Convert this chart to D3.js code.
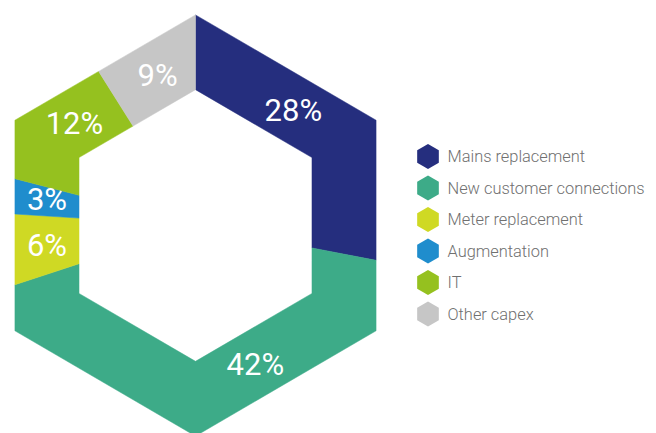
<!DOCTYPE html>
<html>
<head>
<meta charset="utf-8">
<script src="https://cdn.jsdelivr.net/npm/d3@7"></script>
<style>
  body { margin: 0; background: #fff; }
  .pct { fill: #fff; font-family: Roboto, sans-serif; font-weight: 400; font-size: 31px; }
  .legendText { fill: #707070; font-family: Roboto, sans-serif; font-weight: 300; font-size: 16.4px; }
</style>
</head>
<body>
<div id="chart"></div>
<script>
const svgWidth = 656;
const svgHeight = 433;

// data
const categories = ["Mains replacement", "New customer connections", "Meter replacement", "Augmentation", "IT", "Other capex"];
const shares = [28, 42, 6, 3, 12, 9];
const colors = ["#252e7e", "#3dab88", "#cfd924", "#1f8dcd", "#95c11f", "#c6c6c6"];

// small label angle nudges (degrees) so text sits inside the band like the original
const labelNudge = [-10, -20, 0, 1, 4, 2];

const cx = 195.5, cy = 225.5;
const outerR = 208.5;
const innerR = 134.5;
const yStretch = 1.01;

const svg = d3.select("#chart")
  .append("svg")
  .attr("width", svgWidth)
  .attr("height", svgHeight);

const chartGroup = svg.append("g")
  .attr("transform", `translate(${cx}, ${cy})`);

// point on a pointy-top hexagon of radius R at angle a (radians, clockwise from top)
function hexPoint(R, a) {
  const deg = ((a * 180 / Math.PI) % 360 + 360) % 360;
  const k = Math.floor(deg / 60);
  const phi = (deg - 60 * k - 30) * Math.PI / 180;
  const r = R * Math.cos(Math.PI / 6) / Math.cos(phi);
  return [r * Math.sin(a), -r * Math.cos(a) * yStretch];
}

function hexRing(R, a0, a1) {
  const pts = [hexPoint(R, a0)];
  const step = Math.PI / 3;
  let v = Math.floor(a0 / step + 1e-9) * step + step;
  while (v < a1 - 1e-9) {
    pts.push(hexPoint(R, v));
    v += step;
  }
  pts.push(hexPoint(R, a1));
  return pts;
}

const pie = d3.pie().sort(null).value(d => d);
const arcs = pie(shares);

chartGroup.selectAll("path.slice")
  .data(arcs)
  .enter()
  .append("path")
  .attr("class", "slice")
  .attr("fill", (d, i) => colors[i])
  .attr("stroke", (d, i) => colors[i])
  .attr("stroke-width", 0.5)
  .attr("d", d => {
    const outer = hexRing(outerR, d.startAngle, d.endAngle);
    const inner = hexRing(innerR, d.startAngle, d.endAngle).reverse();
    return d3.line()(outer.concat(inner)) + "Z";
  });

chartGroup.selectAll("text.pct")
  .data(arcs)
  .enter()
  .append("text")
  .attr("class", "pct")
  .attr("text-anchor", "middle")
  .attr("dy", "0.36em")
  .attr("transform", (d, i) => {
    const a = (d.startAngle + d.endAngle) / 2 + labelNudge[i] * Math.PI / 180;
    const po = hexPoint(outerR, a), pi = hexPoint(innerR, a);
    const x = (po[0] + pi[0]) / 2, y = (po[1] + pi[1]) / 2;
    return `translate(${x}, ${y})`;
  })
  .text(d => d.data + "%");

// legend
const legendGroup = svg.append("g")
  .attr("transform", "translate(428, 156.5)");

const rowY = d3.scaleLinear().domain([0, 1]).range([0, 31.5]);

const legendRows = legendGroup.selectAll("g")
  .data(categories)
  .enter()
  .append("g")
  .attr("transform", (d, i) => `translate(0, ${rowY(i)})`);

const hexMarker = d3.range(6).map(k => {
  const a = k * Math.PI / 3;
  return [12.5 * Math.sin(a), -12.5 * Math.cos(a)];
});

legendRows.append("path")
  .attr("d", d3.line()(hexMarker) + "Z")
  .attr("fill", (d, i) => colors[i]);

legendRows.append("text")
  .attr("class", "legendText")
  .attr("x", 19.5)
  .attr("dy", "0.35em")
  .text(d => d);
</script>
</body>
</html>
